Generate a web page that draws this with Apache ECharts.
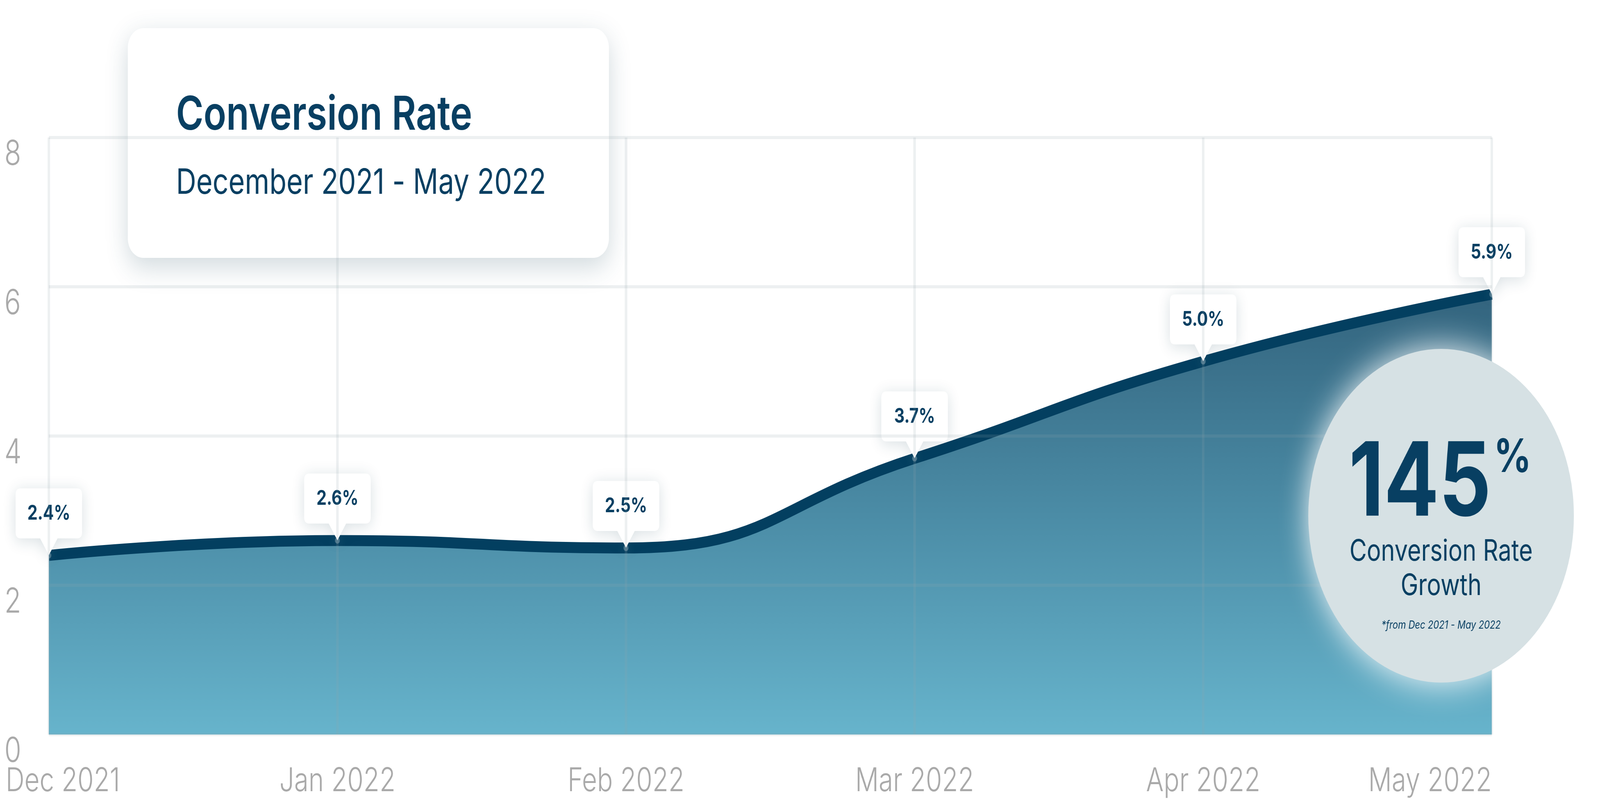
<!DOCTYPE html>
<html lang="en">
<head>
    <meta charset="UTF-8">
    <title>Conversion Rate</title>
    <script src="https://cdn.jsdelivr.net/npm/echarts@6/dist/echarts.min.js"></script>
    <style>
        html, body {margin: 0; padding: 0; background: #fff; overflow: hidden;}
        #main {width: 5145px; height: 2045px; transform-origin: 0 0;}
    </style>
</head>
<body>
<div id="main"></div>
<script>
    // data
    let months = ['Dec 2021', 'Jan 2022', 'Feb 2022', 'Mar 2022', 'Apr 2022', 'May 2022'];
    let rates = [2.4, 2.6, 2.5, 3.7, 5.0, 5.9];
    let yTicks = [0, 2, 4, 6, 8];
    let growth = '145';

    let navy = '#083f62';
    let font = 'Inter';
    let gridColor = 'rgba(150,165,172,0.17)';

    // callout bubble with a tail at the bottom
    let bubble = 'path://M16,0 H198 Q214,0 214,16 V112 Q214,128 198,128 H135 L107,171 L79,128 H16 Q0,128 0,112 V16 Q0,0 16,0 Z';

    // the chart is laid out at 5145x2045; fit it to whatever the window really is
    let box = document.getElementById('main');
    let sx = window.innerWidth / 5145, sy = window.innerHeight / 2045;
    if (Math.abs(sx - 1) > 0.002 || Math.abs(sy - 1) > 0.002) {
        box.style.transform = 'scale(' + sx + ',' + sy + ')';
    }

    let myChart = echarts.init(box);

    let option = {
        animation: false,
        backgroundColor: '#fff',
        grid: {
            left: 157,
            right: 348,
            top: 352,
            bottom: 165
        },
        xAxis: {
            type: 'category',
            boundaryGap: false,
            data: months,
            z: 6,
            axisLine: {show: false},
            axisTick: {show: false},
            splitLine: {show: true, lineStyle: {color: gridColor, width: 8}},
            axisLabel: {
                interval: 0,
                margin: 78,
                fontFamily: font,
                fontWeight: 300,
                fontSize: 84,
                color: '#a9a9a9',
                alignMaxLabel: 'right',
                formatter: function (v, i) {
                    return i === 0 ? '{first|' + v + '}' : v;
                },
                rich: {
                    first: {
                        fontFamily: font,
                        fontWeight: 300,
                        fontSize: 84,
                        color: '#a9a9a9',
                        padding: [0, 0, 0, 90]
                    }
                }
            }
        },
        yAxis: {
            type: 'value',
            min: yTicks[0],
            max: yTicks[yTicks.length - 1],
            interval: 2,
            z: 6,
            axisLine: {show: false},
            axisTick: {show: false},
            splitLine: {show: true, lineStyle: {color: gridColor, width: 8}},
            axisLabel: {
                align: 'left',
                verticalAlign: 'top',
                margin: 143,
                fontFamily: font,
                fontWeight: 300,
                fontSize: 88,
                color: '#a9a9a9'
            }
        },
        series: [
            {
                name: 'Conversion Rate',
                type: 'line',
                z: 1,
                smooth: 0.5,
                showSymbol: false,
                data: rates,
                lineStyle: {color: '#033f60', width: 28},
                areaStyle: {
                    opacity: 1,
                    color: new echarts.graphic.LinearGradient(0, 0, 0, 1, [
                        {offset: 0, color: '#33647e'},
                        {offset: 0.5, color: '#4b8ca6'},
                        {offset: 1, color: '#67b4cc'}
                    ])
                }
            },
            {
                name: 'glow',
                type: 'scatter',
                z: 2,
                data: rates,
                symbol: 'circle',
                symbolSize: 16,
                itemStyle: {
                    color: 'rgba(255,255,255,0.35)',
                    shadowBlur: 30,
                    shadowColor: 'rgba(255,255,255,0.8)'
                },
                emphasis: {disabled: true}
            },
            {
                name: 'labels',
                type: 'scatter',
                z: 5,
                data: rates,
                symbol: bubble,
                symbolSize: [214, 171],
                symbolOffset: [0, -86],
                itemStyle: {
                    color: '#fff',
                    opacity: 1,
                    shadowBlur: 40,
                    shadowColor: 'rgba(20,60,80,0.16)',
                    shadowOffsetY: 6
                },
                label: {
                    show: true,
                    position: 'inside',
                    offset: [0, -21],
                    fontFamily: font,
                    fontWeight: 700,
                    fontSize: 52,
                    color: navy,
                    formatter: function (p) {
                        return p.value.toFixed(1) + '%';
                    }
                },
                emphasis: {disabled: true}
            }
        ],
        graphic: [
            {
                type: 'rect',
                z: 0,
                shape: {x: 411, y: 72, width: 1547, height: 588, r: 50},
                style: {
                    fill: '#fff',
                    shadowBlur: 70,
                    shadowOffsetY: 22,
                    shadowColor: 'rgba(40,80,100,0.22)'
                }
            },
            {
                type: 'text',
                z: 1,
                left: 566,
                top: 236,
                style: {
                    text: 'Conversion Rate',
                    fontFamily: font,
                    fontWeight: 600,
                    fontSize: 120,
                    fill: navy
                }
            },
            {
                type: 'text',
                z: 1,
                left: 566,
                top: 424,
                style: {
                    text: 'December 2021 - May 2022',
                    fontFamily: font,
                    fontWeight: 400,
                    fontSize: 90,
                    fill: navy
                }
            },
            {
                type: 'circle',
                z: 10,
                shape: {cx: 4634, cy: 1320, r: 427},
                style: {
                    fill: '#d6e1e4',
                    shadowBlur: 90,
                    shadowColor: 'rgba(255,255,255,0.95)'
                }
            },
            {
                type: 'text',
                z: 11,
                x: 4566,
                y: 1372,
                style: {
                    text: growth,
                    fontFamily: font,
                    fontWeight: 700,
                    fontSize: 262,
                    fill: navy,
                    align: 'center',
                    verticalAlign: 'bottom'
                }
            },
            {
                type: 'text',
                z: 11,
                x: 4804,
                y: 1114,
                style: {
                    text: '%',
                    fontFamily: font,
                    fontWeight: 700,
                    fontSize: 118,
                    fill: navy,
                    align: 'left',
                    verticalAlign: 'top'
                }
            },
            {
                type: 'text',
                z: 11,
                x: 4634,
                y: 1456,
                style: {
                    text: 'Conversion Rate\nGrowth',
                    fontFamily: font,
                    fontWeight: 400,
                    fontSize: 76,
                    lineHeight: 88,
                    fill: navy,
                    align: 'center',
                    verticalAlign: 'middle'
                }
            },
            {
                type: 'text',
                z: 11,
                x: 4634,
                y: 1600,
                style: {
                    text: '*from Dec 2021 - May 2022',
                    fontFamily: font,
                    fontStyle: 'italic',
                    fontWeight: 400,
                    fontSize: 29,
                    fill: navy,
                    align: 'center',
                    verticalAlign: 'middle'
                }
            }
        ]
    };
    myChart.setOption(option);
</script>
</body>
</html>
